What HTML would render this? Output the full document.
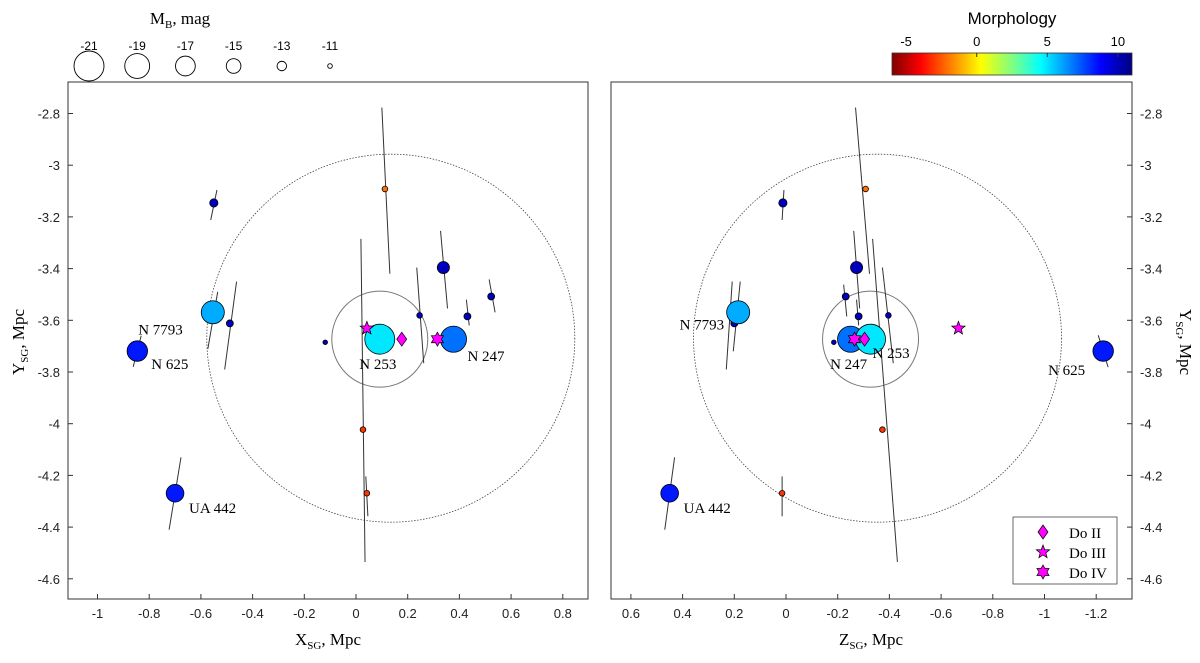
<!DOCTYPE html>
<html><head><meta charset="utf-8"><style>
body{margin:0;background:#fff;}
svg text{font-family:"Liberation Sans",sans-serif;}
.serif{font-family:"Liberation Serif",serif !important;}
</style></head><body>
<svg id="chart" width="1200" height="658" viewBox="0 0 1200 658">
<defs>
<linearGradient id="jet" x1="0" x2="1" y1="0" y2="0">
<stop offset="0" stop-color="#800000"/><stop offset="0.12" stop-color="#ff0000"/><stop offset="0.37" stop-color="#ffff00"/><stop offset="0.5" stop-color="#80ff80"/><stop offset="0.62" stop-color="#00ffff"/><stop offset="0.87" stop-color="#0000ff"/><stop offset="1" stop-color="#000080"/>
</linearGradient>
</defs>
<g id="root"></g>
</svg>
<script>
const names=["N 7793","N 625","UA 442","N 253","N 247","g6","g7","g8","g9","g10","g11","g12","g13","g14","g15"];
const xsg=[-0.554,-0.846,-0.700,0.092,0.377,-0.550,-0.488,0.338,0.431,0.523,0.246,-0.119,0.112,0.027,0.042];
const ysg=[-3.569,-3.719,-4.269,-3.673,-3.673,-3.146,-3.612,-3.396,-3.585,-3.508,-3.581,-3.685,-3.092,-4.023,-4.269];
const zsg=[0.185,-1.227,0.450,-0.327,-0.250,0.012,0.200,-0.273,-0.281,-0.231,-0.396,-0.185,-0.308,-0.373,0.015];
const mb=[-18.3,-17.3,-16.2,-21.0,-19.5,-12.5,-12.0,-14.0,-12.0,-12.0,-11.5,-11.0,-11.5,-11.5,-11.5];
const morph=[6,8.5,8.5,5,7,10,10,10,10,10,10,10,-2,-3,-3];
// error segments (data coords): [x1,y1,x2,y2] in XY and [z1,y1,z2,y2] in ZY
const errXY=[[-0.535,-3.49,-0.573,-3.71],[-0.831,-3.66,-0.862,-3.78],[-0.677,-4.13,-0.723,-4.41],null,null,[-0.538,-3.096,-0.562,-3.212],[-0.462,-3.45,-0.508,-3.79],[0.327,-3.254,0.354,-3.554],[0.427,-3.52,0.438,-3.62],[0.515,-3.442,0.538,-3.569],[0.235,-3.396,0.262,-3.766],null,[0.100,-2.777,0.131,-3.42],[0.019,-3.285,0.035,-4.535],[0.038,-4.204,0.046,-4.358]];
const errZY=[[0.177,-3.45,0.204,-3.72],[-1.208,-3.658,-1.246,-3.781],[0.431,-4.13,0.469,-4.41],null,null,[0.008,-3.096,0.015,-3.212],[0.208,-3.45,0.231,-3.79],[-0.262,-3.254,-0.285,-3.554],[-0.273,-3.52,-0.281,-3.62],[-0.223,-3.462,-0.235,-3.585],[-0.373,-3.396,-0.415,-3.766],null,[-0.269,-2.777,-0.323,-3.42],[-0.335,-3.285,-0.431,-4.535],[0.015,-4.204,0.015,-4.358]];
const dwarfType=["Do II","Do III","Do IV"];
const dwX=[0.177,0.042,0.315];
const dwY=[-3.673,-3.631,-3.673];
const dwZ=[-0.304,-0.667,-0.265];
const xTicks=[-1,-0.8,-0.6,-0.4,-0.2,0,0.2,0.4,0.6,0.8];
const zTicks=[0.6,0.4,0.2,0,-0.2,-0.4,-0.6,-0.8,-1,-1.2];
const yTicks=[-2.8,-3,-3.2,-3.4,-3.6,-3.8,-4,-4.2,-4.4,-4.6];
const magTicks=[-21,-19,-17,-15,-13,-11];
const cbTicks=[-5,0,5,10];

const NS="http://www.w3.org/2000/svg";
const root=document.getElementById('root');
function mk(tag,at,parent){const e=document.createElementNS(NS,tag);for(const k in at)e.setAttribute(k,at[k]);(parent||root).appendChild(e);return e;}
const PPU=258.5;
const sy=v=>113.5+(-2.8-v)*PPU;
const sxL=v=>356+v*PPU;
const sxR=v=>786-v*PPU;
const rad=m=>Math.max(2.3,15-(m+21)*1.28);
function jet(v){const t=Math.min(1,Math.max(0,(v+6)/17));
 const f=(a)=>Math.max(0,Math.min(1,1.5-Math.abs(4*t-a)));
 const r=f(1),g=f(2),b=f(3);return `rgb(${Math.round(r*255)},${Math.round(g*255)},${Math.round(b*255)})`;}
function fmt(v){return (Math.round(v*10)/10).toString();}
const T=(txt,at,p)=>{const e=mk('text',at,p);e.textContent=txt;return e;};

function panel(id,x0,x1,sx,hT,dx,dz,err,yRight){
 const g=mk('g',{});
 
 
 mk('rect',{x:x0,y:82,width:x1-x0,height:517,fill:'#fff',stroke:'#333','stroke-width':1},g);
 hT.forEach(t=>{const x=sx(t);mk('line',{x1:x,x2:x,y1:599,y2:594,stroke:'#333'},g);
  const tl=T(fmt(t),{x:x,y:618,'text-anchor':'middle','font-size':13,fill:'#222'},g);
  
  });
 yTicks.forEach(t=>{const y=sy(t);
  if(!yRight){mk('line',{x1:x0,x2:x0+5,y1:y,y2:y,stroke:'#333'},g);
   const tl=T(fmt(t),{x:x0-8,y:y+5,'text-anchor':'end','font-size':13,fill:'#222'},g);
   
   }
  else{mk('line',{x1:x1-5,x2:x1,y1:y,y2:y,stroke:'#333'},g);
   const tl=T(fmt(t),{x:x1+8,y:y+5,'text-anchor':'start','font-size':13,fill:'#222'},g);
   
   }});
 const cx=sx(dx[3])+(yRight?7:11), cy=sy(ysg[3]);
 const big=mk('circle',{cx:cx,cy:cy-1,r:184,fill:'none',stroke:'#444','stroke-width':0.8,'stroke-dasharray':'1.5,1.5'},g);
 
 
 const sm=mk('circle',{cx:sx(dx[3]),cy:cy,r:48,fill:'none',stroke:'#777','stroke-width':1},g);
 
 
 err.forEach(e=>{if(!e)return;const l=mk('line',{x1:sx(e[0]),y1:sy(e[1]),x2:sx(e[2]),y2:sy(e[3]),stroke:'#333','stroke-width':1},g);
  
  });
 const order=dx.map((_,i)=>i).sort((a,b)=>mb[b]-mb[a]);
 order.forEach(i=>{const c=mk('circle',{cx:sx(dx[i]),cy:sy(ysg[i]),r:rad(mb[i]),fill:jet(morph[i]),stroke:'#000','stroke-width':0.8},g);
  
  });
 dz.forEach((v,i)=>{drawDwarf(g,i,sx(v),sy(dwY[i]));});
 return g;
}
function starPts(cx,cy,n,R,r){let p=[];for(let k=0;k<2*n;k++){const a=-Math.PI/2+k*Math.PI/n;const rr=k%2?r:R;p.push((cx+rr*Math.cos(a)).toFixed(1)+','+(cy+rr*Math.sin(a)).toFixed(1));}return p.join(' ');}
function drawDwarf(g,i,x,y){let e;
 if(i===0)e=mk('polygon',{points:`${x},${y-7} ${x+5},${y} ${x},${y+7} ${x-5},${y}`,fill:'#ff00ff',stroke:'#000','stroke-width':0.7},g);
 else if(i===1)e=mk('polygon',{points:starPts(x,y,5,7,3),fill:'#ff00ff',stroke:'#000','stroke-width':0.7},g);
 else e=mk('polygon',{points:starPts(x,y,6,7,4),fill:'#ff00ff',stroke:'#000','stroke-width':0.7},g);
 
 }

panel('left-panel',68,588,sxL,xTicks,xsg,dwX,errXY,false);
panel('right-panel',611,1132,sxR,zTicks,zsg,dwZ,errZY,true);

const lblL=[[-30,22,'end'],[14,18,'start'],[14,20,'start'],[-2,30,'middle'],[14,22,'start']];
const lblR=[[-14,17,'end'],[-18,24,'end'],[14,20,'start'],[2,19,'start'],[-2,30,'middle']];
for(let i=0;i<5;i++){
 let o=lblL[i];let t=T(names[i],{x:sxL(xsg[i])+o[0],y:sy(ysg[i])+o[1],'text-anchor':o[2],'font-size':15,class:'serif'});
 
 
 o=lblR[i];t=T(names[i],{x:sxR(zsg[i])+o[0],y:sy(ysg[i])+o[1],'text-anchor':o[2],'font-size':15,class:'serif'});
 
 }

let t=T('',{x:328,y:645,'text-anchor':'middle','font-size':17,class:'serif'});
t.innerHTML='X<tspan font-size="11" dy="4">SG</tspan><tspan dy="-4">, Mpc</tspan>';


t=T('',{x:871,y:645,'text-anchor':'middle','font-size':17,class:'serif'});
t.innerHTML='Z<tspan font-size="11" dy="4">SG</tspan><tspan dy="-4">, Mpc</tspan>';


t=T('',{x:0,y:0,'text-anchor':'middle','font-size':17,class:'serif',transform:'translate(24,342) rotate(-90)'});
t.innerHTML='Y<tspan font-size="11" dy="4">SG</tspan><tspan dy="-4">, Mpc</tspan>';


t=T('',{x:0,y:0,'text-anchor':'middle','font-size':17,class:'serif',transform:'translate(1180,342) rotate(90)'});
t.innerHTML='Y<tspan font-size="11" dy="4">SG</tspan><tspan dy="-4">, Mpc</tspan>';



const mg=mk('g',{});


t=T('',{x:180,y:24,'text-anchor':'middle','font-size':17,class:'serif'},mg);
t.innerHTML='M<tspan font-size="11" dy="4">B</tspan><tspan dy="-4">, mag</tspan>';
magTicks.forEach((m,k)=>{const x=89+k*48.2;
 const lt=T(String(m),{x:x,y:50,'text-anchor':'middle','font-size':12},mg);
 
 
 const c=mk('circle',{cx:x,cy:66,r:rad(m),fill:'#fff',stroke:'#000','stroke-width':0.9},mg);
 
 });

const cb=mk('g',{});


t=T('Morphology',{x:1012,y:24,'text-anchor':'middle','font-size':17},cb);
mk('rect',{x:892,y:53,width:240,height:22,fill:'url(#jet)',stroke:'#333','stroke-width':0.8},cb);
const cbx=v=>892+(v+6)/17*240;
cbTicks.forEach(v=>{const x=cbx(v);mk('line',{x1:x,x2:x,y1:53,y2:57,stroke:'#333'},cb);
 const lt=T(String(v),{x:x,y:46,'text-anchor':'middle','font-size':13},cb);
 
 });

const lg=mk('g',{});


mk('rect',{x:1013,y:517,width:104,height:67,fill:'#fff',stroke:'#444','stroke-width':0.8},lg);
dwarfType.forEach((d,i)=>{const y=532+i*20;drawDwarf(lg,i,1043,y);
 const lt=T(d,{x:1069,y:y+6,'font-size':15,class:'serif'},lg);
 
 });
</script>
</body></html>
